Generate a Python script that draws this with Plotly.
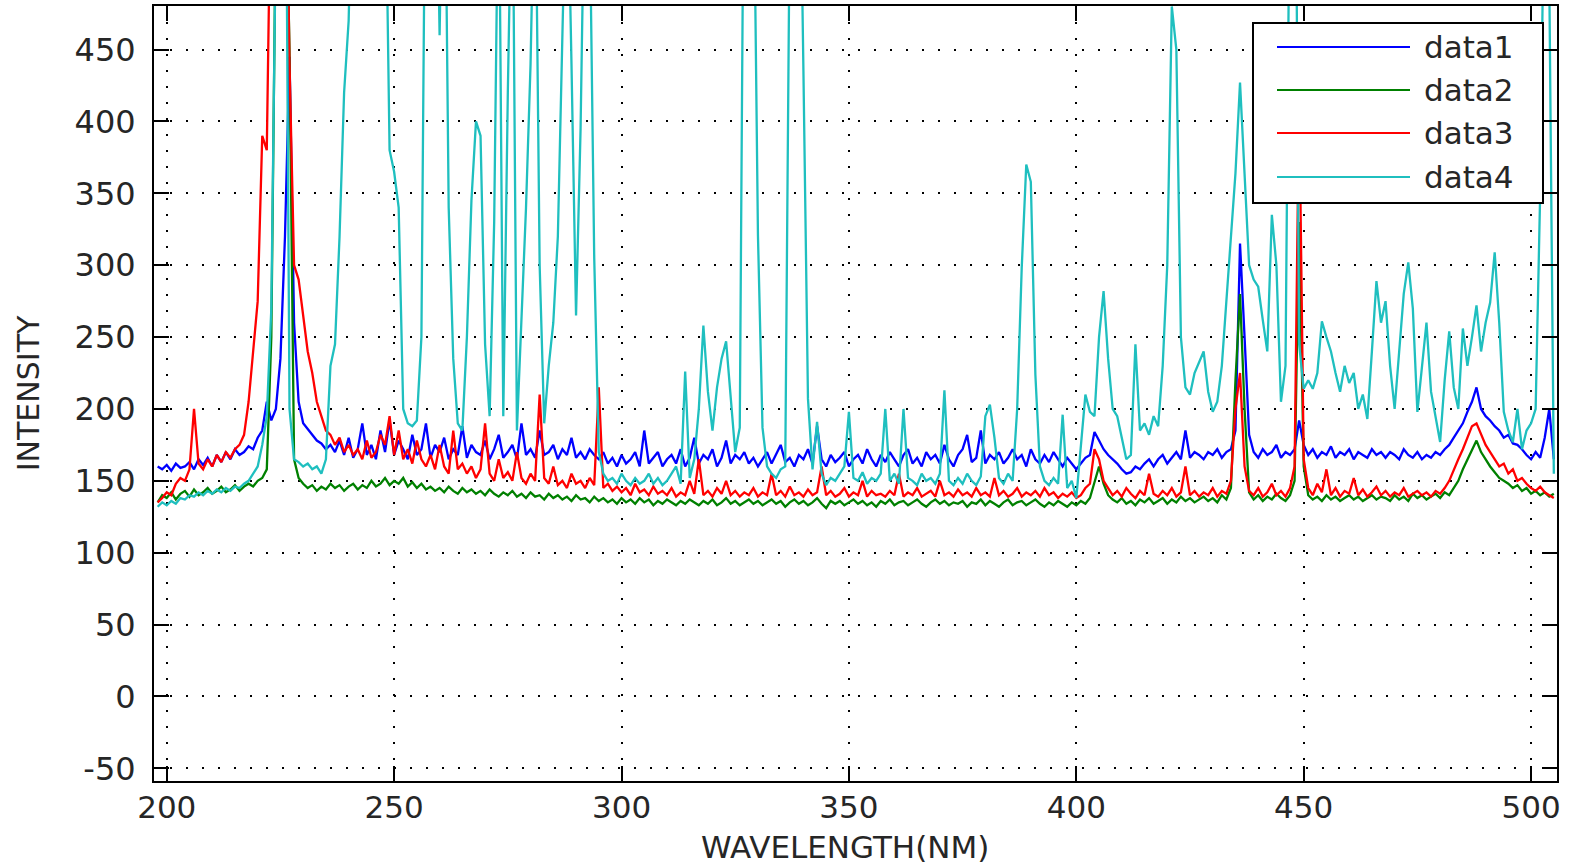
import plotly.graph_objects as go

# ---------------- data (1 nm sampling) ----------------
wavelength = list(range(198, 506))

data1 = [
    160, 158, 161, 157, 162, 159, 160, 163, 158, 165,
    161, 166, 160, 168, 163, 170, 165, 172, 168, 170,
    174, 172, 180, 185, 205, 192, 200, 235, 320, 445,
    260, 205, 190, 186, 182, 178, 176, 172, 175, 170,
    178, 168, 180, 166, 172, 190, 168, 175, 165, 185,
    170, 192, 168, 178, 172, 165, 182, 168, 172, 190,
    166, 175, 170, 180, 165, 172, 168, 188, 166, 175,
    170, 168, 178, 165, 172, 182, 166, 170, 175, 165,
    190, 168, 172, 166, 185, 168, 170, 175, 165, 172,
    168, 180, 166, 170, 165, 172, 168, 165, 170, 162,
    166, 160, 168, 162, 165, 170, 160, 185, 162, 166,
    170, 160, 165, 168, 162, 172, 160, 166, 180, 162,
    168, 165, 172, 160, 166, 178, 162, 168, 165, 170,
    162, 166, 160, 165, 170, 162, 168, 175, 163, 166,
    160, 168, 165, 172, 162, 188, 165, 160, 168, 163,
    166, 170, 160, 165, 168, 162, 172, 165, 160, 168,
    163, 170, 165, 160, 168, 172, 162, 166, 160, 170,
    165, 168, 162, 175, 165, 160, 168, 172, 182, 163,
    166, 185, 162, 168, 165, 170, 162, 166, 172, 165,
    168, 160, 172, 165, 162, 168, 163, 170, 165, 160,
    166, 162, 158, 162, 166, 168, 184, 178, 172, 168,
    165, 162, 158, 155, 156, 160, 158, 162, 165, 160,
    165, 168, 162, 166, 170, 165, 185, 166, 170, 168,
    165, 170, 168, 172, 166, 170, 172, 185, 315, 250,
    182, 170, 166, 172, 168, 170, 175, 166, 170, 168,
    172, 192, 175, 168, 172, 166, 170, 168, 174, 166,
    170, 168, 172, 165, 170, 168, 166, 172, 168, 170,
    166, 170, 168, 165, 172, 168, 166, 170, 165, 168,
    166, 170, 168, 172, 175, 180, 185, 190, 198, 205,
    215, 200, 195, 192, 188, 185, 180, 182, 176, 175,
    172, 168, 165, 170, 166, 180, 200, 165,
]

data2 = [
    135, 140, 138, 142, 137, 141, 143, 139, 144, 140,
    142, 145, 141, 143, 146, 142, 144, 147, 143, 146,
    148, 146, 150, 152, 158, 250, 550, 650, 600, 450,
    165, 152, 148, 145, 147, 143, 146, 144, 148, 145,
    147, 143, 146, 148, 144, 147, 145, 150, 146, 148,
    152, 147, 150, 148, 152, 146, 149, 145, 148, 144,
    146, 143, 145, 142, 146, 143, 141, 145, 142, 144,
    141, 143, 140, 144, 141, 139, 142, 140, 143, 139,
    141, 138, 142, 139, 140, 137, 141, 138, 140, 137,
    139, 136, 140, 137, 138, 135, 139, 136, 138, 135,
    137, 134, 138, 135, 137, 134, 138, 135, 137, 133,
    136, 134, 137, 135, 133, 136, 134, 137, 135, 133,
    136, 134, 137, 133, 135, 138, 134, 136, 133, 135,
    137, 134, 136, 133, 135, 137, 134, 136, 132, 135,
    137, 134, 136, 133, 135, 138, 134, 131, 136, 134,
    136, 133, 135, 137, 134, 136, 133, 135, 132, 136,
    134, 137, 133, 135, 136, 133, 135, 137, 134, 132,
    135, 137, 134, 136, 133, 135, 134, 136, 132, 135,
    134, 137, 133, 136, 134, 132, 135, 137, 133, 135,
    136, 133, 135, 137, 134, 132, 135, 133, 136, 134,
    132, 135, 133, 136, 134, 138, 150, 160, 148, 140,
    137, 135, 138, 134, 136, 133, 137, 135, 138, 134,
    136, 138, 134, 137, 135, 139, 136, 138, 135, 137,
    139, 136, 138, 135, 140, 137, 145, 220, 280, 200,
    142, 137, 140, 136, 139, 137, 141, 138, 136, 140,
    150, 330, 160, 140, 137, 139, 136, 140, 137, 139,
    136, 138, 140, 137, 139, 136, 138, 140, 137, 139,
    138, 136, 140, 137, 139, 136, 141, 138, 140, 137,
    139, 141, 138, 142, 140, 145, 150, 158, 165, 172,
    178, 170, 165, 160, 156, 152, 150, 148, 145, 147,
    143, 145, 141, 143, 140, 142, 139, 141,
]

data3 = [
    135, 138, 142, 140, 148, 152, 150, 158, 200, 162,
    158, 165, 160, 168, 163, 170, 166, 172, 175, 182,
    205, 240, 275, 390, 380, 600, 700, 700, 650, 440,
    300, 290, 265, 240, 225, 205, 195, 185, 182, 175,
    180, 170, 175, 168, 172, 165, 178, 166, 170, 182,
    175, 195, 168, 185, 165, 172, 162, 178, 165, 160,
    168, 158, 175, 160, 155, 185, 158, 162, 155, 160,
    152, 158, 190, 155, 150, 165, 152, 156, 150, 170,
    152, 148, 155, 150, 210, 152, 148, 160, 147, 150,
    145, 155, 148, 150, 145, 152, 147, 215, 145, 148,
    143, 146, 142, 145, 140, 148, 142, 144, 140, 146,
    141, 143, 140, 145, 139, 142, 140, 150, 141, 165,
    140, 143, 139, 145, 141, 150, 140, 143, 139, 142,
    140, 145, 139, 142, 140, 155, 140, 143, 139, 146,
    140, 142, 139, 144, 140, 142, 160, 140, 143, 139,
    141, 145, 139, 142, 140, 150, 139, 143, 140, 141,
    139, 143, 140, 155, 139, 142, 140, 145, 139, 141,
    143, 139, 150, 140, 142, 139, 144, 140, 142, 139,
    145, 140, 142, 139, 152, 140, 143, 139, 141, 145,
    139, 142, 140, 143, 139, 145, 140, 142, 138, 141,
    139, 142, 138, 140, 145, 148, 172, 165, 150, 145,
    140, 143, 139, 145, 141, 138, 143, 140, 155, 141,
    139, 143, 140, 145, 139, 142, 160, 140, 143, 139,
    142, 140, 145, 139, 143, 141, 150, 200, 225, 160,
    143, 140, 145, 139, 142, 148, 140, 143, 139, 145,
    160, 420, 165, 145, 140, 148, 142, 158, 140, 145,
    139, 143, 141, 152, 140, 144, 139, 142, 146, 140,
    143, 139, 142, 140, 145, 139, 141, 143, 140, 142,
    139, 143, 141, 145, 150, 158, 165, 172, 180, 188,
    190, 182, 175, 170, 165, 160, 162, 155, 158, 150,
    152, 148, 145, 143, 146, 142, 140, 138,
]

data4 = [
    132, 135, 133, 136, 134, 138, 137, 140, 139, 142,
    140, 143, 141, 144, 142, 145, 143, 146, 145, 148,
    150, 155, 160, 175, 195, 270, 700, 800, 700, 200,
    165, 163, 160, 162, 158, 160, 155, 165, 230, 245,
    320, 420, 470, 650, 750, 700, 650, 700, 750, 700,
    600, 380, 365, 340, 200, 190, 188, 192, 250, 650,
    700, 650, 460, 650, 340, 235, 190, 185, 250, 345,
    400, 390, 245, 195, 330, 600, 195, 420, 600, 185,
    260, 340, 440, 600, 300, 190, 230, 260, 320, 440,
    600, 440, 265, 395, 600, 550, 305, 170, 155, 150,
    152, 148, 155, 150, 147, 152, 148, 150, 155, 148,
    152, 147, 150, 155, 160, 148, 226, 152, 165, 200,
    258, 212, 185, 215, 235, 247, 210, 170, 187, 650,
    700, 600, 321, 187, 160, 155, 152, 158, 160, 550,
    700, 650, 435, 207, 158, 191, 155, 147, 152, 150,
    155, 160, 198, 152, 150, 156, 148, 152, 150, 155,
    200, 150, 155, 148, 200, 152, 150, 147, 155, 150,
    152, 148, 155, 213, 150, 147, 152, 148, 155, 150,
    147, 153, 195, 203, 180, 152, 148, 155, 150, 200,
    298, 370, 358, 224, 160, 150, 147, 152, 148, 196,
    145, 150, 138, 175, 210, 198, 195, 250, 282, 235,
    200, 195, 180, 165, 168, 245, 185, 190, 182, 195,
    188, 230, 300, 480, 450, 250, 215, 210, 225, 233,
    240, 212, 198, 205, 230, 275, 321, 364, 427, 368,
    300, 290, 285, 262, 240, 335, 300, 205, 230, 600,
    700, 245, 214, 220, 214, 225, 261, 250, 240, 225,
    212, 230, 218, 225, 200, 210, 193, 240, 289, 260,
    275, 230, 200, 240, 280, 302, 270, 198, 230, 260,
    212, 195, 177, 220, 254, 215, 200, 256, 230, 250,
    272, 240, 260, 274, 309, 260, 198, 185, 177, 200,
    172, 185, 190, 200, 350, 600, 500, 155,
]

series_names = ["data1", "data2", "data3", "data4"]
series_values = [data1, data2, data3, data4]
series_colors = ["#0000ff", "#008000", "#ff0000", "#1fbfbf"]

x_ticks = [200, 250, 300, 350, 400, 450, 500]
y_ticks = [-50, 0, 50, 100, 150, 200, 250, 300, 350, 400, 450]
y_tick_text = ["-50", "0", "50", "100", "150", "200", "250", "300", "350", "400", "450"]

x_title = "WAVELENGTH(NM)"
y_title = "INTENSITY"

for v in series_values:
    assert len(v) == len(wavelength), len(v)

# ---------------- figure ----------------
W, H = 1576, 864
ML, MR, MT, MB = 154, 19, 6, 83
PW, PH = W - ML - MR, H - MT - MB

FONT = "DejaVu Sans"
TXT = "#262626"

fig = go.Figure()
for name, vals, col in zip(series_names, series_values, series_colors):
    fig.add_trace(go.Scatter(
        x=wavelength, y=vals, mode="lines", name=name,
        line=dict(color=col, width=2.3), showlegend=False,
    ))

axis_common = dict(
    showline=True, linecolor="black", linewidth=2, mirror="ticks",
    ticks="inside", ticklen=15, tickwidth=2, tickcolor="black",
    showgrid=True, gridcolor="black", gridwidth=2, griddash="2px,14px",
    zeroline=False, automargin=False,
)

fig.update_xaxes(range=[197.2, 505.7], tickvals=x_ticks, ticklabelstandoff=-2,
                 tickfont=dict(family=FONT, size=31, color=TXT), **axis_common)
fig.update_yaxes(range=[-58.8, 480.3], tickvals=y_ticks, ticktext=y_tick_text, ticklabelstandoff=10,
                 tickfont=dict(family=FONT, size=32, color=TXT),
                 title=dict(text=y_title, font=dict(family=FONT, size=30, color=TXT), standoff=26),
                 **axis_common)

# ---------------- legend (drawn as a MATLAB-style box) and x title ----------------
def px_x(px):
    return (px - ML) / PW

def px_y(py):
    return 1 - (py - MT) / PH

shapes = [dict(type="rect", xref="paper", yref="paper",
               x0=px_x(1253), x1=px_x(1543), y0=px_y(203), y1=px_y(23),
               line=dict(color="black", width=2), fillcolor="white", layer="above")]
annotations = [dict(xref="paper", yref="paper", x=px_x(845), y=px_y(847),
                    text=x_title, showarrow=False, xanchor="center", yanchor="middle",
                    borderpad=0, font=dict(family=FONT, size=31, color=TXT))]
row_y = [47, 90, 133, 177]
for name, col, ry in zip(series_names, series_colors, row_y):
    shapes.append(dict(type="line", xref="paper", yref="paper",
                       x0=px_x(1277), x1=px_x(1410), y0=px_y(ry), y1=px_y(ry),
                       line=dict(color=col, width=2), layer="above"))
    annotations.append(dict(xref="paper", yref="paper", x=px_x(1422), y=px_y(ry),
                            text=name, showarrow=False, xanchor="left", yanchor="middle",
                            font=dict(family=FONT, size=31, color=TXT)))

fig.update_layout(
    width=W, height=H, margin=dict(l=ML, r=MR, t=MT, b=MB),
    paper_bgcolor="white", plot_bgcolor="white",
    showlegend=False, shapes=shapes, annotations=annotations,
)

fig.write_html("out.html")
